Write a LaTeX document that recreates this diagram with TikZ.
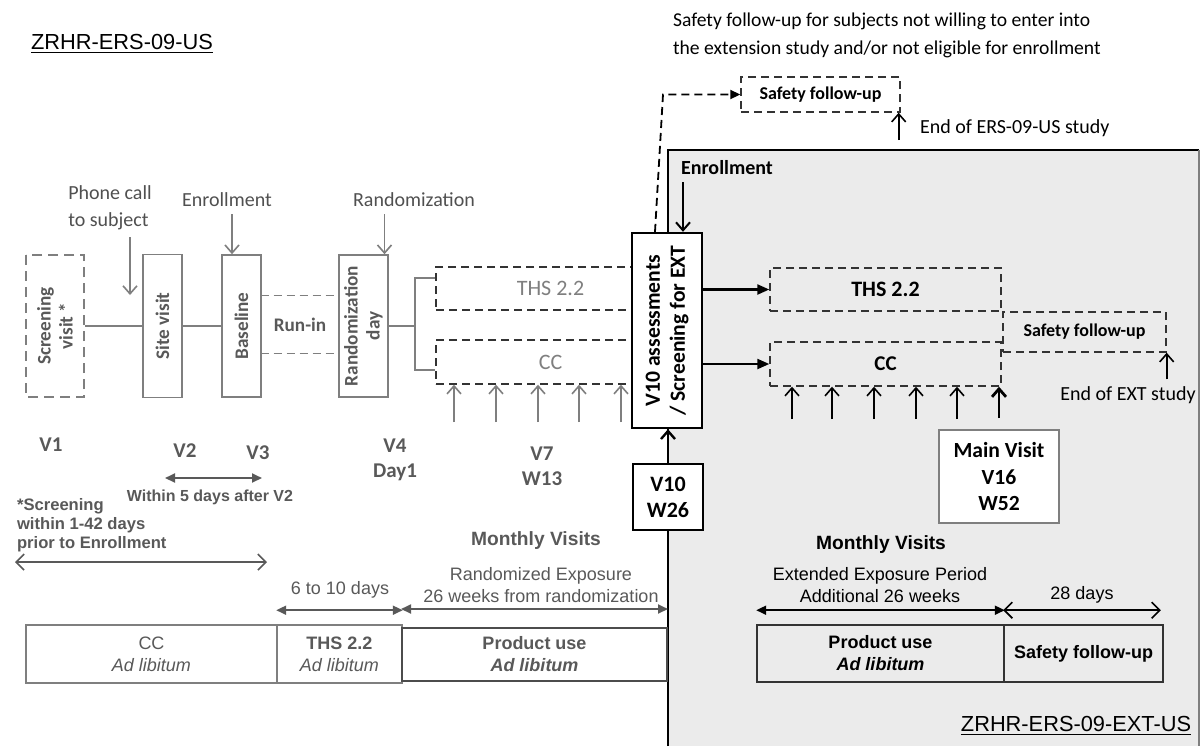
\documentclass[tikz,border=0pt]{standalone}
\usepackage{fontspec}
\setmainfont{Carlito}
\newfontfamily\arialfont{Liberation Sans}
\usetikzlibrary{arrows.meta}
\definecolor{txtgray}{HTML}{595959}
\definecolor{lngray}{HTML}{7F7F7F}
\definecolor{extgray}{HTML}{EBEBEB}
\newcommand{\fsz}[2]{\fontsize{#1}{#2}\selectfont}

\begin{document}
\begin{tikzpicture}[x=0.5pt,y=-0.5pt,
  visitbox/.style={draw=lngray,line width=0.8pt,inner sep=0pt,align=center,text=txtgray,font=\fsz{9.6}{11}\bfseries,rotate=90},
  armbox/.style={draw=black!80,dash pattern=on 4pt off 2.5pt,line width=0.7pt,inner sep=0pt,align=center},
  vlabel/.style={font=\fsz{10.5}{12.5}\bfseries,text=txtgray,align=center},
  graynote/.style={font=\fsz{10}{13.5},text=txtgray!90!black,align=left},
  spantext/.style={font=\arialfont\fsz{9}{11},align=center},
  barbox/.style={draw=lngray,line width=0.8pt,inner sep=0pt,align=center,text=txtgray,font=\arialfont\fsz{9}{11},minimum height=29pt},
  rbar/.style={draw=black!80,line width=0.8pt,inner sep=0pt,align=center,font=\arialfont\fsz{9}{11}\bfseries,minimum height=28.5pt},
  garrow/.style={draw=lngray,line width=0.8pt,-{Straight Barb[length=4pt,width=7pt]}},
  barrow/.style={draw=black,line width=0.8pt,-{Straight Barb[length=4pt,width=7pt]}},
  tarrow/.style={draw=black,line width=1.1pt,-{Triangle[length=6pt,width=5pt]}},
  gdbl/.style={draw=txtgray,line width=0.9pt,{Triangle[length=5pt,width=4.5pt]}-{Triangle[length=5pt,width=4.5pt]}},
  bdbl/.style={draw=black,line width=0.9pt,{Triangle[length=5pt,width=4.5pt]}-{Triangle[length=5pt,width=4.5pt]}},
  odbl/.style={line width=0.8pt,{Straight Barb[length=4pt,width=8pt]}-{Straight Barb[length=4pt,width=8pt]}}]

  \useasboundingbox[fill=white] (0,0) rectangle (1200,746);

  % Extension study area
  \fill[extgray] (668,150) rectangle (1199,746);
  \draw[line width=1.2pt] (668,746) -- (668,150) -- (1199,150);
  \draw[lngray,line width=0.8pt] (1199,150) -- (1199,746);

  % Titles
  \node[font=\arialfont\fsz{10.9}{13}] (ustitle) at (122,44) {\underline{ZRHR-ERS-09-US}};
  \node[font=\arialfont\fsz{10.9}{13}] (exttitle) at (1076,726) {\underline{ZRHR-ERS-09-EXT-US}};

  % Screening, enrollment and run-in
  \node[visitbox,dash pattern=on 5pt off 3pt,minimum width=71pt,minimum height=29pt] (scr) at (55,326) {Screening\\visit *};
  \node[visitbox,minimum width=71.5pt,minimum height=19.5pt] (site) at (162.5,326) {Site visit};
  \node[visitbox,minimum width=71pt,minimum height=19.5pt] (base) at (241.5,326) {Baseline};
  \node[visitbox,minimum width=71pt,minimum height=24.5pt] (rand) at (363.5,326) {Randomization\\day};
  \node[font=\fsz{9.6}{11}\bfseries,text=txtgray,minimum width=39pt,minimum height=28.5pt,inner sep=0pt] (runin) at (300,324.5) {Run-in};
  \draw[lngray,dash pattern=on 4pt off 2.5pt] (runin.north west) -- (runin.north east) (runin.south west) -- (runin.south east);
  \draw[lngray,line width=0.8pt] (scr.south) -- (site.north) (site.south) -- (base.north);

  \node[graynote] (phone) at (110,208) {Phone call\\to subject};
  \coordinate (phonetip) at (130,295);
  \draw[garrow] (phonetip |- phone.south) -- (phonetip);
  \node[graynote] (enr1) at (227,200) {Enrollment};
  \coordinate (enrtip) at ([xshift=-4.75pt]base.east);
  \draw[garrow] (enrtip |- enr1.south) -- (enrtip);
  \node[graynote] (rando) at (414,200) {Randomization};
  \coordinate (randtip) at ([xshift=10.5pt]rand.east);
  \draw[garrow] (randtip |- rando.south) -- (randtip);

  % Randomized arms
  \node[armbox,minimum width=114.5pt,minimum height=21.5pt,text=lngray,font=\fsz{11}{13}] (thsl) at (550.5,288.5) {THS 2.2};
  \node[armbox,minimum width=114.5pt,minimum height=22pt,text=lngray,font=\fsz{11}{13}] (ccl) at (550.5,362) {CC};
  \coordinate (fork) at (415,326);
  \draw[lngray,line width=0.8pt] (rand.south) -- (fork);
  \draw[lngray,line width=0.8pt] (thsl.west |- 0,278) -| (fork) |- (ccl.west |- 0,370);
  \foreach \x in {454,496,538,579,621}
    \draw[garrow] (\x,422) -- (\x,0 |- ccl.south);

  % V10 transition
  \node[rotate=90,draw=black,fill=white,line width=1.2pt,minimum width=97.5pt,minimum height=35pt,inner sep=0pt,align=center,font=\fsz{10.8}{12.5}\bfseries] (v10) at (667,330.5) {V10 assessments\\/ Screening for EXT};
  \node[draw=black,fill=white,line width=1pt,minimum width=35pt,minimum height=33pt,inner sep=0pt,align=center,font=\fsz{11}{13}\bfseries] (w26) at (668,497) {V10\\W26};
  \draw[barrow,line width=1.2pt] (w26.north) -- (w26.north |- v10.west);

  % Visit labels
  \node[vlabel] (v1) at (51,445) {V1};
  \node[vlabel] (v2) at (185,451) {V2};
  \node[vlabel] (v3) at (258,453) {V3};
  \node[vlabel] (v4) at (395,460) {V4\\Day1};
  \node[vlabel] (v7) at (542,466) {V7\\W13};

  % Spans of the first study
  \path (165,478) coordinate (w5a) (262,478) coordinate (w5b);
  \draw[gdbl] (w5a) -- (w5b);
  \node[font=\arialfont\fsz{8}{9.5}\bfseries,text=txtgray] (w5txt) at (210,497) {Within 5 days after V2};
  \node[font=\arialfont\fsz{8.3}{9.5}\bfseries,text=txtgray,align=left,anchor=west] (scrnote) at (10,525) {*Screening\\within 1-42 days\\prior to Enrollment};
  \path (15,562) coordinate (scra) (267,562) coordinate (scrb);
  \draw[draw=txtgray,odbl] (scra) -- (scrb);
  \node[font=\arialfont\fsz{9.6}{11}\bfseries,text=txtgray] (mvl) at (536,541) {Monthly Visits};
  \node[spantext,text=txtgray] (randexp) at (541,585) {Randomized Exposure\\26 weeks from randomization};
  \node[spantext,text=txtgray] (d610) at (340,590) {6 to 10 days};

  \node[barbox,minimum width=125.5pt] (ccbar) at (151.5,654) {CC\\\textit{Ad libitum}};
  \node[barbox,minimum width=62.5pt] (thsbar) at (339.5,654) {\textbf{THS 2.2}\\\textit{Ad libitum}};
  \node[barbox,draw=black!70,line width=1pt,minimum width=132.5pt,minimum height=26.5pt,font=\arialfont\fsz{9}{11}\bfseries] (prodbar) at (534.5,654.5) {Product use\\\textit{Ad libitum}};
  \draw[gdbl] ([yshift=7pt]thsbar.north west) -- ([yshift=7pt]thsbar.north east);
  \draw[gdbl] ([yshift=9pt]prodbar.north west) -- ([yshift=9pt]prodbar.north east);

  % Extension arms
  \node[armbox,minimum width=115.5pt,minimum height=21.5pt,font=\fsz{11}{13}\bfseries] (thsr) at (885.5,289.5) {THS 2.2};
  \node[armbox,minimum width=115.5pt,minimum height=22pt,font=\fsz{10.5}{13}\bfseries] (ccr) at (885.5,364) {CC};
  \node[armbox,minimum width=81.5pt,minimum height=20pt,font=\fsz{9}{11}\bfseries] (sfr) at (1084.5,332) {Safety follow-up};
  \draw[tarrow] (v10.south |- thsr.west) -- (thsr.west);
  \draw[tarrow] (v10.south |- ccr.west) -- (ccr.west);
  \foreach \x in {792,832,874,916,957}
    \draw[barrow] (\x,419) -- (\x,0 |- ccr.south);
  \node[draw=lngray,fill=white,line width=0.8pt,minimum width=60pt,minimum height=46.5pt,inner sep=0pt,align=center,font=\fsz{10.8}{13.25}\bfseries] (mainv) at (999,476.5) {Main Visit\\V16\\W52};
  \coordinate (mvtop) at ([yshift=5.5pt]mainv.north);
  \draw[barrow,line width=1.4pt] (mvtop) -- (mvtop |- ccr.south);
  \node[font=\fsz{10}{12}] (extend) at (1128,395) {End of EXT study};
  \draw[barrow] (sfr.south east |- extend.north) -- (sfr.south east);

  % Enrollment into extension
  \node[font=\fsz{10}{12}\bfseries] (enr2) at (727,168) {Enrollment};
  \coordinate (enrtip2) at ([xshift=8pt]v10.east);
  \draw[barrow,line width=1pt] (enrtip2 |- enr2.south) -- (enrtip2);

  % Safety follow-up of non-enrolled subjects
  \node[font=\fsz{9.8}{14},align=left,anchor=west] (topnote) at (666,35) {Safety follow-up for subjects not willing to enter into\\the extension study and/or not eligible for enrollment};
  \node[armbox,minimum width=79.5pt,minimum height=17.5pt,font=\fsz{9}{11}\bfseries] (sftop) at (820.5,94.5) {Safety follow-up};
  \coordinate (dfoot) at ([xshift=-6pt]v10.east);
  \coordinate (dknee) at (663,0 |- sftop.west);
  \draw[line width=0.9pt,dash pattern=on 4pt off 2.5pt,-{Triangle[length=5pt,width=4.5pt]}] (dfoot) -- (dknee) -- (sftop.west);
  \node[font=\fsz{10}{12},anchor=west] (ersend) at (913,128) {End of ERS-09-US study};
  \coordinate (erstip) at ([xshift=-1pt]sftop.south east);
  \draw[barrow] (erstip |- 0,140) -- (erstip);

  % Spans of the extension study
  \node[font=\arialfont\fsz{9.6}{11}\bfseries] (mvr) at (881,545) {Monthly Visits};
  \node[spantext] (extexp) at (880,585) {Extended Exposure Period\\Additional 26 weeks};
  \node[spantext] (d28) at (1082,595) {28 days};
  \node[rbar,minimum width=123.5pt] (prodr) at (880.5,653.5) {Product use\\\textit{Ad libitum}};
  \node[rbar,minimum width=79.5pt] (sfbar) at (1083.5,653.5) {Safety follow-up};
  \draw[bdbl] ([yshift=7pt]prodr.north west) -- ([yshift=7pt]prodr.north east);
  \draw[odbl] ([yshift=7pt]sfbar.north west) -- ([yshift=7pt,xshift=-1.5pt]sfbar.north east);
\end{tikzpicture}
\end{document}
